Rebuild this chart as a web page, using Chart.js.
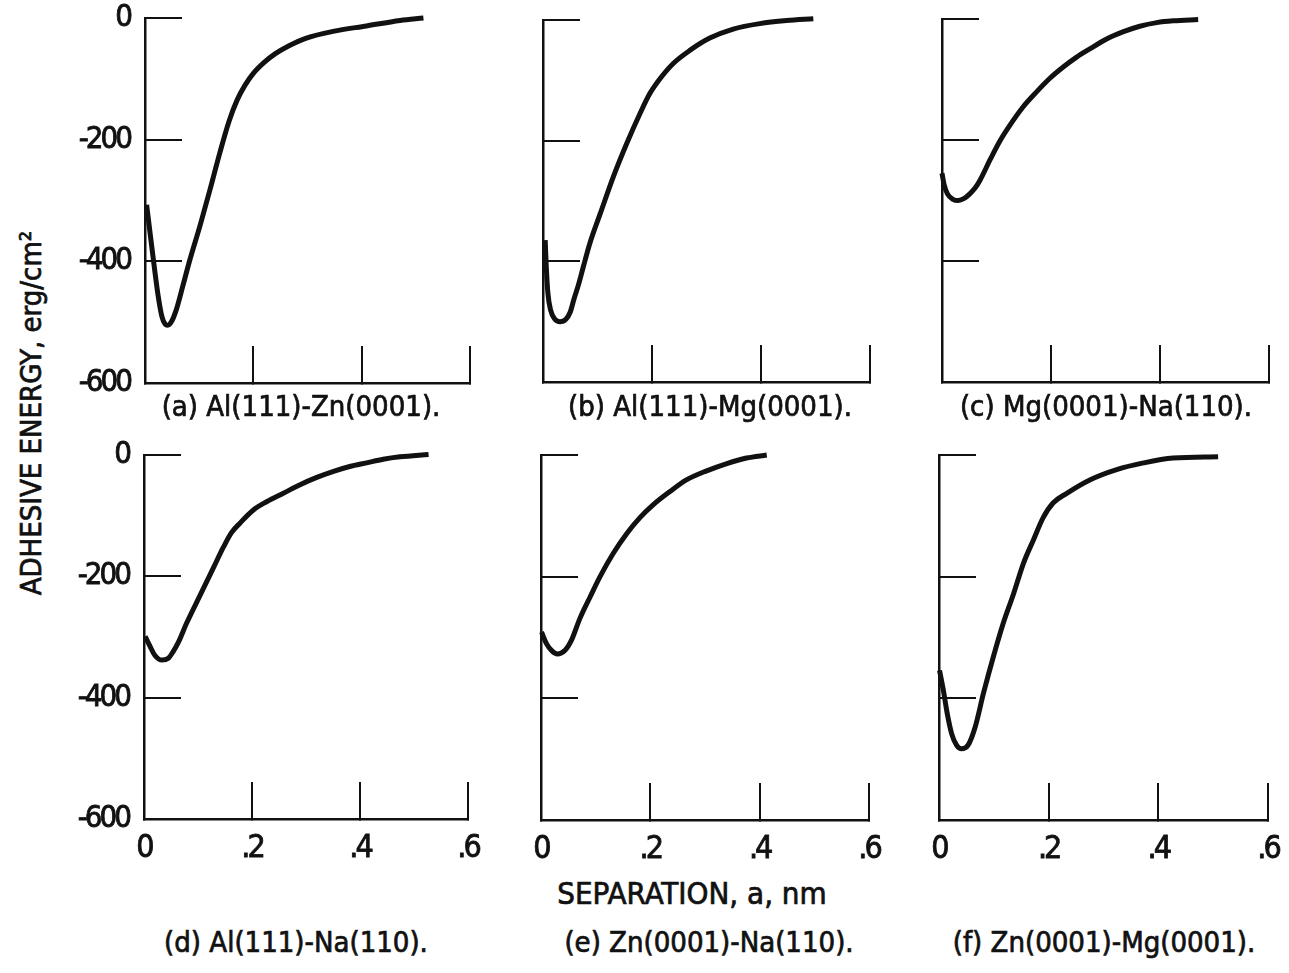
<!DOCTYPE html>
<html>
<head>
<meta charset="utf-8">
<script src="https://cdn.jsdelivr.net/npm/chart.js@4.4.1/dist/chart.umd.min.js"></script>
<style>
  html, body { margin: 0; padding: 0; background: #fff; }
  body {
    width: 1289px; height: 973px; position: relative; overflow: hidden;
    font-family: 'DejaVu Sans Condensed', 'DejaVu Sans', sans-serif;
    color: #111;
  }
  .panel { position: absolute; }
  .label {
    position: absolute; white-space: nowrap; font-size: 29px;
    -webkit-text-stroke: 0.7px #111;
    transform: translate(-50%, -50%);
  }
  .ytitle { transform: translate(-50%, -50%) rotate(-90deg); }
</style>
</head>
<body>

<div class="label ytitle" style="left:31px; top:413px;">ADHESIVE ENERGY, erg/cm²</div>
<div class="label" style="left:692px; top:893px; font-size:31px;">SEPARATION, a, nm</div>

<script>
// tick marks and labels
const xTickValues = [0, 0.2, 0.4, 0.6];
const xTickLabels = ['0', '.2', '.4', '.6'];
const yTickValues = [0, -200, -400, -600];
const yTickLabels = ['0', '-200', '-400', '-600'];

const captions = [
  '(a) Al(111)-Zn(0001).',
  '(b) Al(111)-Mg(0001).',
  '(c) Mg(0001)-Na(110).',
  '(d) Al(111)-Na(110).',
  '(e) Zn(0001)-Na(110).',
  '(f) Zn(0001)-Mg(0001).'
];

// separation (nm) and adhesive energy (erg/cm^2)
const sepA = [0.003, 0.010, 0.017, 0.024, 0.031, 0.037, 0.042, 0.049, 0.058, 0.070, 0.083, 0.102, 0.120, 0.138, 0.155, 0.170, 0.185, 0.200, 0.220, 0.240, 0.265, 0.298, 0.347, 0.409, 0.471, 0.514];
const energyA = [-307, -358, -408, -455, -490, -503, -505, -499, -479, -440, -397, -340, -282, -222, -170, -135, -110, -91, -73, -59, -46, -33, -22, -13, -4, 0];

const sepB = [0.004, 0.006, 0.009, 0.014, 0.022, 0.031, 0.042, 0.050, 0.057, 0.065, 0.074, 0.086, 0.105, 0.129, 0.154, 0.178, 0.196, 0.215, 0.239, 0.270, 0.306, 0.349, 0.398, 0.447, 0.496];
const energyB = [-365, -409, -453, -481, -496, -500, -496, -484, -462, -439, -409, -370, -321, -260, -204, -155, -122, -97, -72, -50, -30, -15, -6, -1, 2];

const sepC = [0.000, 0.004, 0.010, 0.020, 0.030, 0.040, 0.051, 0.061, 0.070, 0.088, 0.106, 0.125, 0.149, 0.174, 0.198, 0.223, 0.247, 0.272, 0.302, 0.333, 0.363, 0.394, 0.424, 0.470];
const energyC = [-255, -274, -289, -298, -300, -297, -289, -279, -266, -233, -202, -175, -145, -120, -98, -79, -63, -49, -33, -21, -12, -6, -3, -1];

const sepD = [0.002, 0.011, 0.020, 0.033, 0.045, 0.054, 0.064, 0.079, 0.104, 0.128, 0.147, 0.162, 0.178, 0.202, 0.227, 0.258, 0.289, 0.320, 0.351, 0.381, 0.412, 0.443, 0.474, 0.527];
const energyD = [-299, -315, -330, -338, -335, -324, -308, -277, -231, -187, -152, -128, -112, -91, -77, -63, -49, -37, -27, -19, -13, -7, -3, 1];

const sepE = [0.001, 0.010, 0.020, 0.030, 0.044, 0.056, 0.071, 0.090, 0.108, 0.132, 0.157, 0.181, 0.205, 0.236, 0.266, 0.303, 0.340, 0.376, 0.413];
const energyE = [-291, -310, -322, -327, -321, -304, -269, -233, -200, -162, -129, -103, -82, -60, -41, -26, -14, -5, 0];

const sepF = [0.001, 0.008, 0.015, 0.023, 0.032, 0.041, 0.053, 0.066, 0.081, 0.099, 0.117, 0.136, 0.154, 0.172, 0.190, 0.208, 0.233, 0.275, 0.324, 0.373, 0.427, 0.509];
const energyF = [-354, -387, -425, -458, -477, -483, -477, -447, -392, -332, -277, -228, -178, -140, -103, -79, -63, -41, -24, -13, -5, -3];

const FONT = "'DejaVu Sans Condensed', 'DejaVu Sans', sans-serif";
const INK = '#111';
const PAD_L = 80, PAD_T = 20, PAD_R = 22, PAD_B = 60;
const TICK = 37;

// plot area of each panel on the page: left, top, right, bottom
const panels = [
  { sep: sepA, energy: energyA, box: [145, 18, 470, 383], showX: false, showY: true,  cap: [301, 406] },
  { sep: sepB, energy: energyB, box: [543, 20, 870, 382], showX: false, showY: false, cap: [710, 406] },
  { sep: sepC, energy: energyC, box: [942, 19, 1269, 382], showX: false, showY: false, cap: [1106, 406] },
  { sep: sepD, energy: energyD, box: [144, 455, 468, 819], showX: true,  showY: true,  cap: [296, 942] },
  { sep: sepE, energy: energyE, box: [541, 455, 869, 820], showX: true,  showY: false, cap: [709, 942] },
  { sep: sepF, energy: energyF, box: [939, 455, 1268, 820], showX: true,  showY: false, cap: [1104, 942] }
];

// tighter tick text, closer to the narrow lettering of the original
const tightText = {
  id: 'tightText',
  beforeLayout(chart) { chart.ctx.letterSpacing = '-3px'; },
  beforeDraw(chart) { chart.ctx.letterSpacing = '-3px'; }
};

// keep the plot area exactly where it is asked to be
function noPadding(s) {
  s.paddingLeft = s.paddingRight = s.paddingTop = s.paddingBottom = 0;
}

panels.forEach((p, i) => {
  const [l, t, r, b] = p.box;
  const wrap = document.createElement('div');
  wrap.className = 'panel';
  wrap.style.left = (l - PAD_L) + 'px';
  wrap.style.top = (t - PAD_T) + 'px';
  wrap.style.width = (r - l + PAD_L + PAD_R) + 'px';
  wrap.style.height = (b - t + PAD_T + PAD_B) + 'px';
  const canvas = document.createElement('canvas');
  wrap.appendChild(canvas);
  document.body.appendChild(wrap);

  const cap = document.createElement('div');
  cap.className = 'label';
  cap.style.left = p.cap[0] + 'px';
  cap.style.top = p.cap[1] + 'px';
  cap.textContent = captions[i];
  document.body.appendChild(cap);

  new Chart(canvas, {
    type: 'line',
    data: {
      datasets: [{
        data: p.sep.map((x, k) => ({ x: x, y: p.energy[k] })),
        borderColor: INK,
        borderWidth: 5,
        pointRadius: 0,
        cubicInterpolationMode: 'monotone',
        fill: false,
        clip: 6
      }]
    },
    plugins: [tightText],
    options: {
      responsive: true,
      maintainAspectRatio: false,
      animation: false,
      layout: { padding: { left: 0, top: PAD_T, right: PAD_R, bottom: 0 } },
      plugins: { legend: { display: false }, tooltip: { enabled: false } },
      scales: {
        x: {
          type: 'linear',
          min: 0,
          max: 0.6,
          afterBuildTicks: s => { s.ticks = xTickValues.map(v => ({ value: v })); },
          afterFit: s => { s.height = PAD_B; noPadding(s); },
          grid: { drawOnChartArea: false, tickLength: -TICK, color: INK, lineWidth: 2 },
          border: { color: INK, width: 2.5 },
          ticks: {
            display: p.showX,
            padding: TICK + 10,
            maxRotation: 0,
            autoSkip: false,
            color: INK,
            textStrokeColor: INK,
            textStrokeWidth: 0.8,
            font: { family: FONT, size: 32 },
            callback: v => xTickLabels[xTickValues.indexOf(v)]
          }
        },
        y: {
          type: 'linear',
          min: -600,
          max: 0,
          afterBuildTicks: s => { s.ticks = yTickValues.map(v => ({ value: v })); },
          afterFit: s => { s.width = PAD_L; noPadding(s); },
          grid: { drawOnChartArea: false, tickLength: -TICK, color: INK, lineWidth: 2 },
          border: { color: INK, width: 2.5 },
          ticks: {
            display: p.showY,
            padding: TICK + 15,
            autoSkip: false,
            color: INK,
            textStrokeColor: INK,
            textStrokeWidth: 0.8,
            font: { family: FONT, size: 31 },
            callback: v => yTickLabels[yTickValues.indexOf(v)]
          }
        }
      }
    }
  });
});
</script>
</body>
</html>
